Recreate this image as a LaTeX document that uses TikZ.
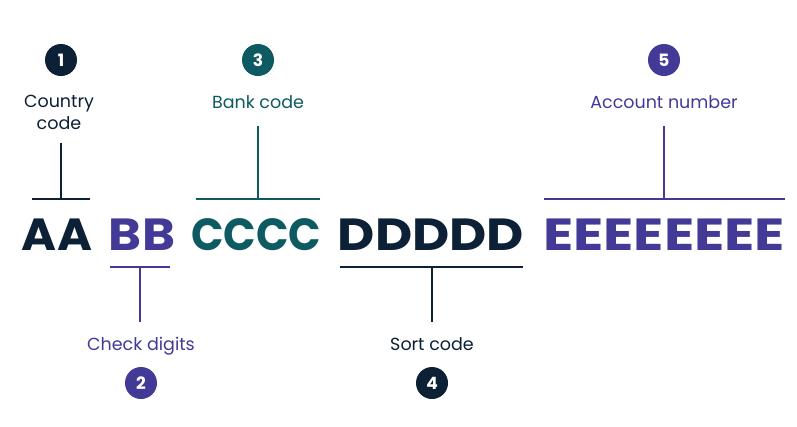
\documentclass[tikz,border=0pt]{standalone}
\usepackage{fontspec}
\usepackage{graphicx}
\setmainfont{Poppins}
\definecolor{navy}{HTML}{0C2036}
\definecolor{violet}{HTML}{433A98}
\definecolor{teal}{HTML}{0E5A63}
% bold letter group stretched to a given width
\newcommand{\grp}[2]{\resizebox{#1}{\height}{\bfseries\fontsize{45}{45}\selectfont #2}}
\begin{document}
\begin{tikzpicture}[x=1pt,y=-1pt]
\tikzset{
  badge/.style={circle,fill=#1,minimum size=32pt,inner sep=0pt,text=white,
    font=\bfseries\fontsize{17}{17}\selectfont},
  lbl/.style={text=#1,font=\fontsize{17.5}{22}\selectfont,align=center,inner sep=0pt,anchor=base},
  code/.style={text=#1,inner sep=0pt,anchor=base},
  brk/.style={draw=#1,line width=1.2pt},
}
\useasboundingbox[fill=white] (0,0) rectangle (797,426);

% the five parts of the account number
\node[code=navy]   (gA) at (57,250)  {\grp{70pt}{AA}};
\node[code=violet] (gB) at (142,250) {\grp{66pt}{BB}};
\node[code=teal]   (gC) at (256,250) {\grp{130pt}{CCCC}};
\node[code=navy]   (gD) at (431,250) {\grp{186pt}{DDDDD}};
\node[code=violet] (gE) at (664,250) {\grp{242pt}{EEEEEEEE}};

% numbered badges
\node[badge=navy]   (c1) at (61,60)  {1};
\node[badge=violet] (c2) at (141,383) {2};
\node[badge=teal]   (c3) at (258,60) {3};
\node[badge=navy]   (c4) at (432,383) {4};
\node[badge=violet] (c5) at (664,60) {5};

% labels
\node[lbl=navy,anchor=north] (l1) at (59,95.2) {Country\\code};
\node[lbl=violet] (l2) at (141,350) {Check digits};
\node[lbl=teal]   (l3) at (258,108) {Bank code};
\node[lbl=navy]   (l4) at (432,350) {Sort code};
\node[lbl=violet] (l5) at (664,108) {Account number};

% bracket end points
\coordinate (a1) at (32,199);  \coordinate (a2) at (90,199);  \coordinate (am) at (61,199);  \coordinate (at) at (61,143);
\coordinate (b1) at (110,267); \coordinate (b2) at (170,267); \coordinate (bm) at (140,267); \coordinate (bt) at (140,322);
\coordinate (k1) at (196,199); \coordinate (k2) at (320,199); \coordinate (km) at (258,199); \coordinate (kt) at (258,126);
\coordinate (d1) at (340,267); \coordinate (d2) at (523,267); \coordinate (dm) at (432,267); \coordinate (dt) at (432,322);
\coordinate (e1) at (544,199); \coordinate (e2) at (785,199); \coordinate (em) at (664,199); \coordinate (et) at (664,126);

% brackets
\draw[brk=navy]   (a1) -- (a2) (am) -- (at);
\draw[brk=violet] (b1) -- (b2) (bm) -- (bt);
\draw[brk=teal]   (k1) -- (k2) (km) -- (kt);
\draw[brk=navy]   (d1) -- (d2) (dm) -- (dt);
\draw[brk=violet] (e1) -- (e2) (em) -- (et);
\end{tikzpicture}
\end{document}
